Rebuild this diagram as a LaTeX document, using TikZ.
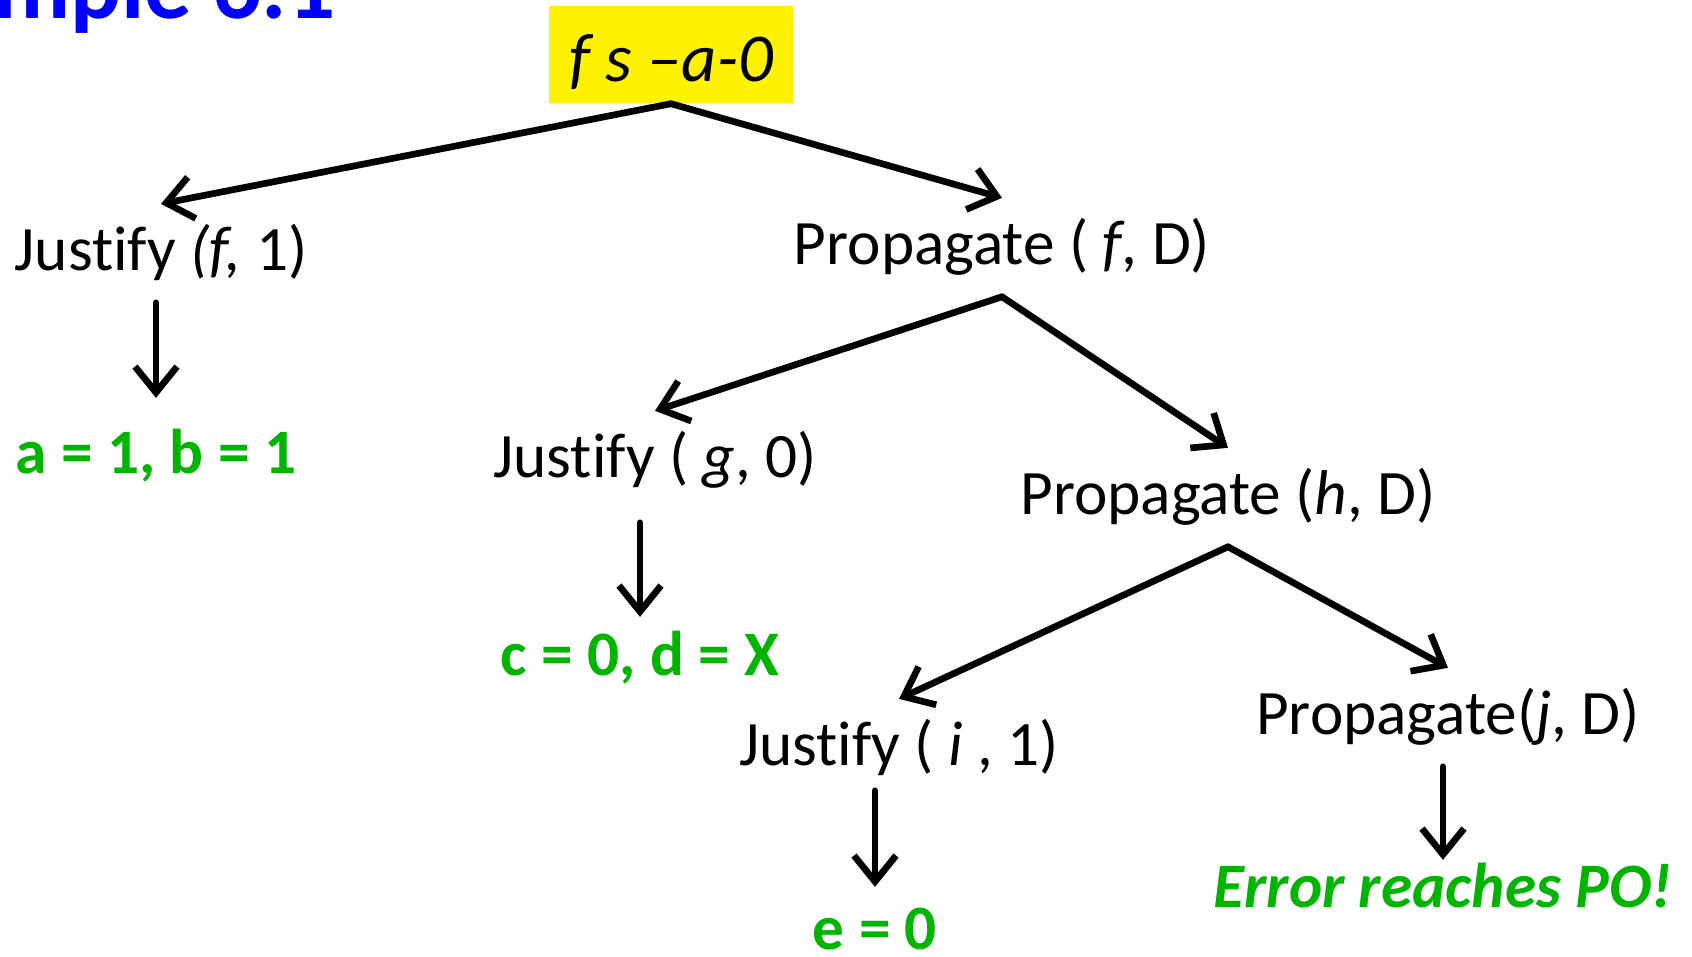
\documentclass[tikz,border=0pt]{standalone}
\usepackage{fontspec}
\setmainfont{Carlito}[Ligatures={NoCommon}]
\usetikzlibrary{arrows.meta,positioning}
\definecolor{ansgreen}{RGB}{0,180,0}
\definecolor{titleblue}{RGB}{0,0,255}

\begin{document}
\begin{tikzpicture}[x=0.1mm,y=-0.1mm,
  stepnode/.style={font=\fontsize{18}{22}\selectfont, anchor=base,
    text height=13.5pt, text depth=4pt, inner xsep=0pt, inner ysep=1.8mm},
  result/.style={stepnode, text=ansgreen, font=\fontsize{18}{22}\selectfont\bfseries},
  flow/.style={-{Straight Barb[length=2.6mm,width=4.2mm]}, line width=1.9pt, line cap=round}]
  \clip (0,0) rectangle (1692,956);

  % タイトル
  \node[anchor=base east, inner sep=0pt, text=titleblue,
    font=\fontsize{27}{32}\selectfont\bfseries] (title) at (336,18) {Example 6.1};

  % ノード
  \node[fill=yellow, minimum width=24.4mm, minimum height=9.7mm, inner sep=0pt,
    text height=18pt, text depth=2.4pt, font=\fontsize{19.5}{24}\selectfont\itshape]
    (fault) at (671,54.5) {f s –a-0};
  \node[stepnode] (jf) at (161,270) {Justify \textit{(f,} 1)};
  \node[stepnode] (pf) at (1002,264) {Propagate ( \textit{f}, D)};
  \node[result] (ab) at (156,473) {a = 1, b = 1};
  \node[stepnode] (jg) at (655,477) {Justify ( \textit{g}, 0)};
  \node[stepnode] (ph) at (1228,514) {Propagate (\textit{h}, D)};
  \node[result] (cd) at (640,675) {c = 0, d = X};
  \node[stepnode] (ji) at (899,765) {Justify ( \textit{i} , 1)};
  \node[stepnode] (pj) at (1448,734) {Propagate(\textit{j}, D)};
  \node[result] (po) at (1443,907) {\textit{Error reaches PO!}};
  \node[result] (e0) at (875,949) {e = 0};

  % 矢印
  \draw[flow] (fault.south) -- (jf.north);
  \draw[flow] (fault.south) -- (pf.north);
  \draw[flow] (pf.south) -- (jg.north);
  \draw[flow] (pf.south) -- (ph.north);
  \draw[flow] (ph.south) -- (ji.north);
  \draw[flow] (ph.south) -- (pj.north);
  \draw[flow, shorten >=0.9mm] (jf.south -| ab.north) -- (ab.north);
  \draw[flow, shorten <=1.3mm, shorten >=-0.8mm] (jg.south -| cd.north) -- (cd.north);
  \draw[flow, shorten <=-0.7mm, shorten >=-0.4mm] (ji.south -| e0.north) -- (e0.north);
  \draw[flow, shorten >=-1.9mm] (pj.south -| po.north) -- (po.north);
\end{tikzpicture}
\end{document}
